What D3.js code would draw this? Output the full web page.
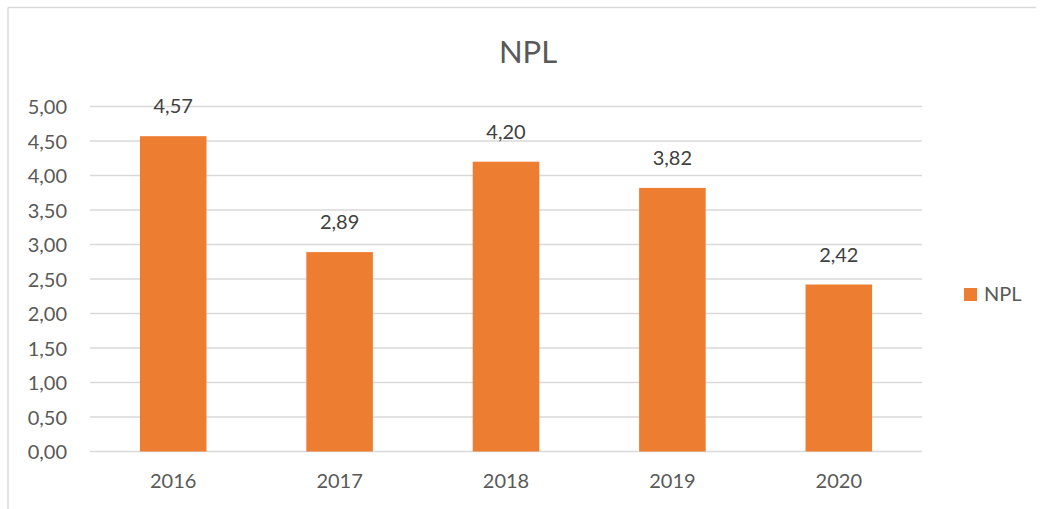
<!DOCTYPE html>
<html lang="en">
<head>
<meta charset="UTF-8">
<title>NPL</title>
<script src="https://d3js.org/d3.v7.min.js"></script>
<style>
  body { margin: 0; background: #fff; }
  text { font-family: Lato, "Open Sans", sans-serif; }
</style>
</head>
<body>
<div class="main"></div>
<script>
  var years = ["2016", "2017", "2018", "2019", "2020"];
  var nplValues = [4.57, 2.89, 4.20, 3.82, 2.42];
  var yTicks = [0, 0.5, 1, 1.5, 2, 2.5, 3, 3.5, 4, 4.5, 5];
  var seriesName = "NPL";

  let width = 1045, height = 509;
  let svg = d3.select(".main").append("svg").attr("width", width).attr("height", height).style("display", "block");

  let fmt = function(v) { return d3.format(".2f")(v).replace(".", ","); };

  // chart frame (top + left edge visible)
  svg.append("line").attr("x1", 8).attr("y1", 7.5).attr("x2", 1036).attr("y2", 7.5).style("stroke", "#d9d9d9").style("stroke-width", 1.5);
  svg.append("line").attr("x1", 8).attr("y1", 7.5).attr("x2", 8).attr("y2", height).style("stroke", "#d9d9d9").style("stroke-width", 1.5);

  let x = d3.scaleBand().domain(years).range([90, 922]).paddingInner(0.6).paddingOuter(0.3);
  let y = d3.scaleLinear().domain([0, 5]).range([451.5, 106.5]);

  // gridlines
  svg.append("g").selectAll("line").data(yTicks).join("line")
    .attr("x1", 90).attr("x2", 922)
    .attr("y1", d => y(d)).attr("y2", d => y(d))
    .style("stroke", "#d9d9d9").style("stroke-width", 1.5);

  // y axis labels
  let yAxis = d3.axisLeft(y).tickValues(yTicks).tickFormat(fmt).tickSize(0).tickPadding(0);
  let gy = svg.append("g").attr("transform", "translate(67,0)").call(yAxis);
  gy.select(".domain").remove();
  gy.selectAll("text").style("font-size", "20px").style("fill", "#595959").attr("dy", "0.35em");

  // x axis labels
  let xAxis = d3.axisBottom(x).tickSize(0).tickPadding(0);
  let gx = svg.append("g").attr("transform", "translate(0,474)").call(xAxis);
  gx.select(".domain").remove();
  gx.selectAll("text").style("font-size", "20px").style("fill", "#595959").attr("dy", "0.71em");

  // bars
  svg.append("g").selectAll("rect").data(years).join("rect")
    .attr("x", d => x(d)).attr("width", x.bandwidth())
    .attr("y", (d, i) => y(nplValues[i]))
    .attr("height", (d, i) => y(0) - y(nplValues[i]))
    .style("fill", "#ed7d31");

  // data labels
  svg.append("g").selectAll("text").data(years).join("text")
    .attr("x", d => x(d) + x.bandwidth() / 2)
    .attr("y", (d, i) => y(nplValues[i]) - 23)
    .attr("text-anchor", "middle")
    .style("font-size", "20px").style("fill", "#404040")
    .text((d, i) => fmt(nplValues[i]));

  // title
  svg.append("text").attr("x", 528).attr("y", 63).attr("text-anchor", "middle")
    .style("font-size", "31px").style("fill", "#595959").text(seriesName);

  // legend
  svg.append("rect").attr("x", 964).attr("y", 288).attr("width", 13).attr("height", 13).style("fill", "#ed7d31");
  svg.append("text").attr("x", 984).attr("y", 301).style("font-size", "20px").style("fill", "#595959").text(seriesName);
</script>
</body>
</html>
